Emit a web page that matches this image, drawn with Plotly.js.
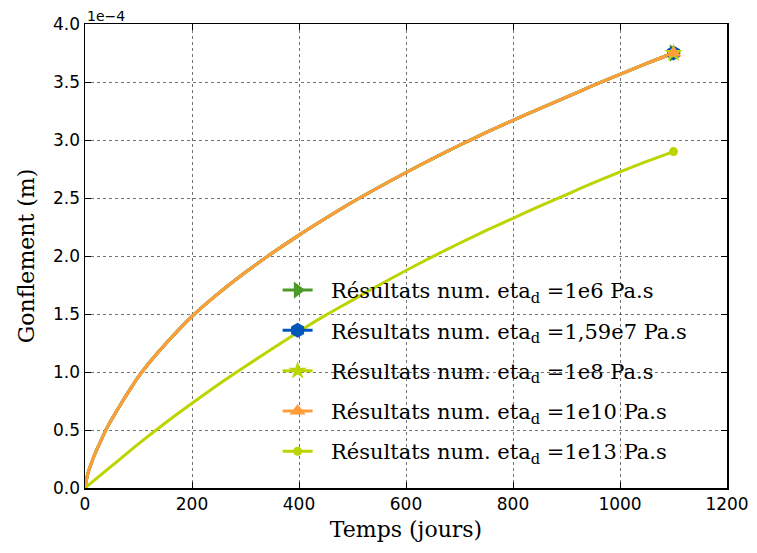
<!DOCTYPE html>
<html>
<head>
<meta charset="utf-8">
<script src="https://cdn.plot.ly/plotly-3.0.1.min.js"></script>
<style>html,body{margin:0;padding:0;background:#fff;}#chart{width:757px;height:553px;}</style>
</head>
<body>
<div id="chart"></div>
<script>
// Time (days)
const tempsA = [0, 5, 10, 20, 30, 40, 60, 80, 100, 120, 150, 200, 250, 300, 350, 400, 450, 500, 550, 600, 650, 700, 750, 800, 850, 900, 950, 1000, 1050, 1100];
// Swelling (x1e-4 m) for eta_d = 1e6, 1.59e7, 1e8, 1e10 (curves coincide)
const gonf_1e10 = [0, 0.12, 0.19, 0.31, 0.41, 0.51, 0.67, 0.82, 0.96, 1.08, 1.24, 1.48, 1.68, 1.86, 2.025, 2.18, 2.325, 2.465, 2.595, 2.72, 2.84, 2.955, 3.065, 3.17, 3.27, 3.37, 3.47, 3.565, 3.66, 3.75];
const gonf_1e6 = gonf_1e10.slice();
const gonf_159e7 = gonf_1e10.slice();
const gonf_1e8 = gonf_1e10.slice();
// eta_d = 1e13
const tempsB = [0, 50, 100, 150, 200, 250, 300, 350, 400, 450, 500, 550, 600, 650, 700, 750, 800, 850, 900, 950, 1000, 1050, 1100];
const gonf_1e13 = [0, 0.19, 0.38, 0.56, 0.73, 0.895, 1.05, 1.20, 1.35, 1.49, 1.62, 1.75, 1.875, 1.995, 2.11, 2.22, 2.325, 2.43, 2.53, 2.63, 2.725, 2.815, 2.90];

const labels = ["1e6", "1,59e7", "1e8", "1e10", "1e13"];
const colors = ["#4c9a2a", "#0057b8", "#bcd400", "#ff9d3a", "#bcd400"];
const symbols = ["triangle-right", "hexagon", "star", "triangle-up", "circle"];
const msizes = [15, 15, 14, 14, 9];
const series = [
  [tempsA, gonf_1e6], [tempsA, gonf_159e7], [tempsA, gonf_1e8], [tempsA, gonf_1e10], [tempsB, gonf_1e13]
];
const scale = 1e-4;

const traces = [];
series.forEach((s, i) => {
  const x = s[0], y = s[1].map(v => v * scale);
  traces.push({x: x, y: y, type: 'scatter', mode: 'lines', line: {color: colors[i], width: 3, shape: 'spline', smoothing: 0.8},
    showlegend: false, legendgroup: 'g' + i, hoverinfo: 'skip'});
});
series.forEach((s, i) => {
  const x = s[0].slice(-1), y = s[1].slice(-1).map(v => v * scale);
  traces.push({x: x, y: y, type: 'scatter', mode: 'lines+markers', line: {color: colors[i], width: 3},
    marker: {symbol: symbols[i], size: msizes[i], color: colors[i], line: {width: 0}},
    name: '\u00a0\u00a0Résultats num. eta<sub>d</sub> =' + labels[i] + ' Pa.s', legendgroup: 'g' + i});
});

const axCommon = {
  showline: true, linecolor: '#000', linewidth: 1.5, mirror: 'ticks',
  ticks: 'inside', ticklen: 6, tickcolor: '#000', tickwidth: 1,
  showgrid: true, gridcolor: 'rgba(0,0,0,0.55)', griddash: 'dot', gridwidth: 1,
  zeroline: false,
  tickfont: {family: 'DejaVu Sans', size: 17, color: '#000'}
};

const layout = {
  width: 757, height: 553,
  margin: {l: 85, r: 30, t: 24, b: 65},
  paper_bgcolor: '#fff', plot_bgcolor: '#fff',
  showlegend: true,
  xaxis: Object.assign({}, axCommon, {range: [0, 1200], tickvals: [0, 200, 400, 600, 800, 1000, 1200],
    title: {text: 'Temps (jours)', font: {family: 'DejaVu Serif', size: 22, color: '#000'}, standoff: 8}}),
  yaxis: Object.assign({}, axCommon, {range: [0, 4e-4], tickvals: [0, 0.5e-4, 1e-4, 1.5e-4, 2e-4, 2.5e-4, 3e-4, 3.5e-4, 4e-4],
    ticktext: ['0.0', '0.5', '1.0', '1.5', '2.0', '2.5', '3.0', '3.5', '4.0'],
    title: {text: 'Gonflement (m)', font: {family: 'DejaVu Serif', size: 22, color: '#000'}, standoff: 12}}),
  legend: {x: 0.3, y: 0.47, xanchor: 'left', yanchor: 'top', bgcolor: 'rgba(255,255,255,0)', borderwidth: 0,
    font: {family: 'DejaVu Serif', size: 21, color: '#000'}, itemwidth: 30,
    traceorder: 'grouped', tracegroupgap: 10},
  annotations: [{text: '1e\u22124', xref: 'paper', yref: 'paper', x: 0, y: 1, xanchor: 'left', yanchor: 'bottom',
    showarrow: false, font: {family: 'DejaVu Sans', size: 14, color: '#000'}, yshift: -2}]
};

Plotly.newPlot('chart', traces, layout, {displayModeBar: false, staticPlot: true});
</script>
</body>
</html>
